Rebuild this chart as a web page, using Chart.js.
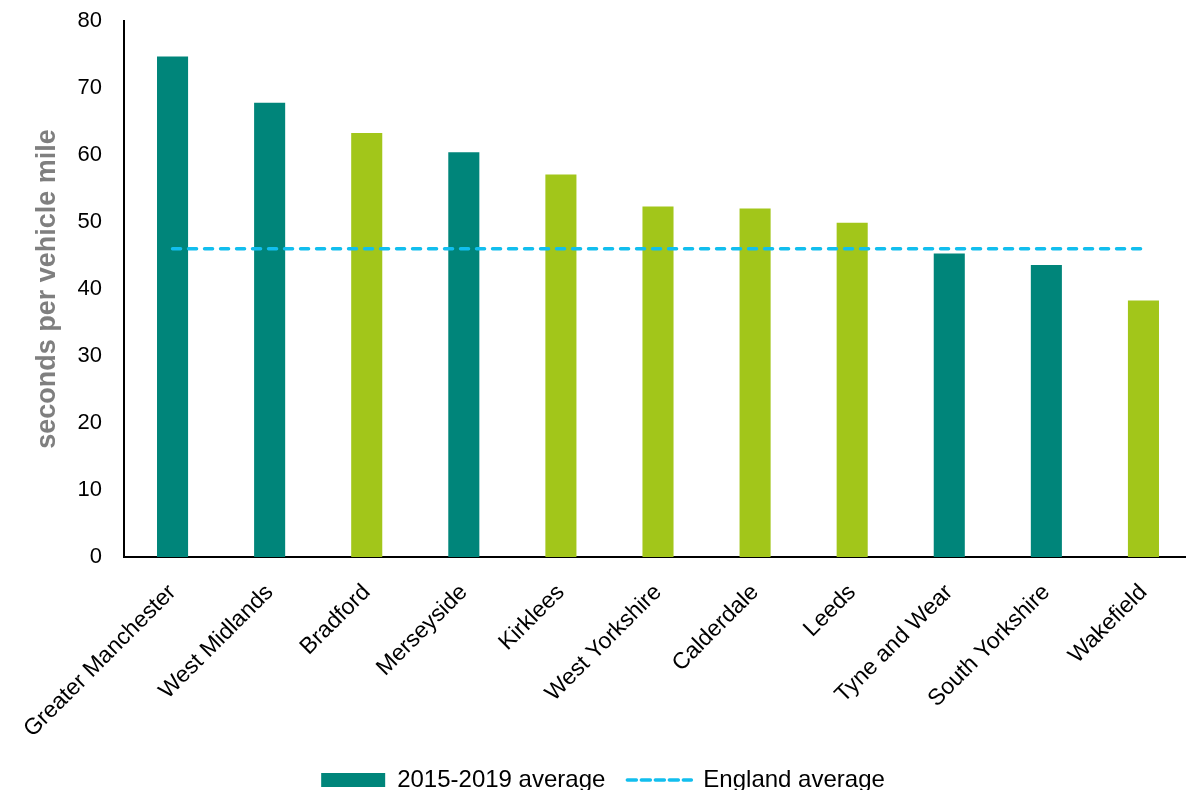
<!DOCTYPE html>
<html>
<head>
<meta charset="utf-8">
<script src="https://cdn.jsdelivr.net/npm/chart.js@4/dist/chart.umd.min.js"></script>
<style>
  html, body { margin: 0; padding: 0; background: #fff; overflow: hidden; }
  /* plot area in the reference runs a few px past the right edge, and the legend sits low */
  #wrap { width: 1192px; height: 802px; }
</style>
</head>
<body>
<div id="wrap"><canvas id="myChart"></canvas></div>
<script>
// data
const areas = ['Greater Manchester', 'West Midlands', 'Bradford', 'Merseyside', 'Kirklees',
    'West Yorkshire', 'Calderdale', 'Leeds', 'Tyne and Wear', 'South Yorkshire', 'Wakefield'];
const delay = [74.7, 67.8, 63.3, 60.4, 57.1, 52.3, 52.0, 49.9, 45.3, 43.6, 38.3];
const inWestYorkshire = [false, false, true, false, true, true, true, true, false, false, true];
const england = [46.0, 46.0, 46.0, 46.0, 46.0, 46.0, 46.0, 46.0, 46.0, 46.0, 46.0];
const yTicks = [0, 10, 20, 30, 40, 50, 60, 70, 80];

const TEAL = '#00857A';
const GREEN = '#A2C61A';
const BLUE = '#12BEEE';
const FONT = 'Arial, "Liberation Sans"';

const ctx = document.getElementById('myChart').getContext('2d');
const myChart = new Chart(ctx, {
    type: 'bar',
    data: {
        labels: areas,
        datasets: [{
            label: '2015-2019 average',
            data: delay,
            backgroundColor: inWestYorkshire.map(w => w ? GREEN : TEAL),
            barPercentage: 0.32,
            categoryPercentage: 1,
            order: 1
        }, {
            type: 'line',
            label: 'England average',
            data: england,
            borderColor: BLUE,
            borderWidth: 3.5,
            borderDash: [8, 8],
            borderCapStyle: 'round',
            pointRadius: 0,
            fill: false,
            order: 0
        }]
    },
    options: {
        responsive: true,
        maintainAspectRatio: false,
        animation: false,
        layout: { padding: { top: 21, right: 0, left: 14, bottom: 0 } },
        plugins: {
            tooltip: { enabled: false },
            legend: {
                position: 'bottom',
                sort: (a, b) => a.datasetIndex - b.datasetIndex,
                labels: {
                    color: '#000',
                    font: { family: FONT, size: 24 },
                    usePointStyle: true,
                    pointStyleWidth: 64,
                    boxHeight: 14,
                    padding: 22,
                    generateLabels: function (chart) {
                        return chart.data.datasets.map(function (ds, i) {
                            const isLine = ds.type === 'line';
                            return {
                                text: ds.label,
                                datasetIndex: i,
                                fillStyle: isLine ? 'rgba(0,0,0,0)' : TEAL,
                                strokeStyle: isLine ? BLUE : TEAL,
                                lineWidth: isLine ? 3.5 : 0,
                                lineDash: isLine ? [9, 5] : [],
                                lineCap: isLine ? 'round' : 'butt',
                                pointStyle: isLine ? 'line' : 'rect',
                                fontColor: '#000',
                                hidden: false
                            };
                        });
                    }
                }
            }
        },
        scales: {
            x: {
                grid: { display: false },
                border: { display: true, color: '#000', width: 2 },
                ticks: {
                    color: '#000',
                    font: { family: FONT, size: 23 },
                    autoSkip: false,
                    maxRotation: 45,
                    minRotation: 45,
                    padding: 14
                },
                afterFit: s => { s.height = 189; }
            },
            y: {
                min: 0,
                max: 80,
                afterBuildTicks: s => { s.ticks = yTicks.map(v => ({ value: v })); },
                grid: { display: false },
                border: { display: true, color: '#000', width: 2 },
                ticks: {
                    color: '#000',
                    font: { family: FONT, size: 22 },
                    padding: 14
                },
                title: {
                    display: true,
                    text: 'seconds per vehicle mile',
                    color: '#7F7F7F',
                    font: { family: FONT, size: 27, weight: 'bold' },
                    padding: { top: 17, bottom: 0 }
                },
                afterFit: s => { s.width = 110; s.paddingTop = 0; }
            }
        }
    }
});
</script>
</body>
</html>
